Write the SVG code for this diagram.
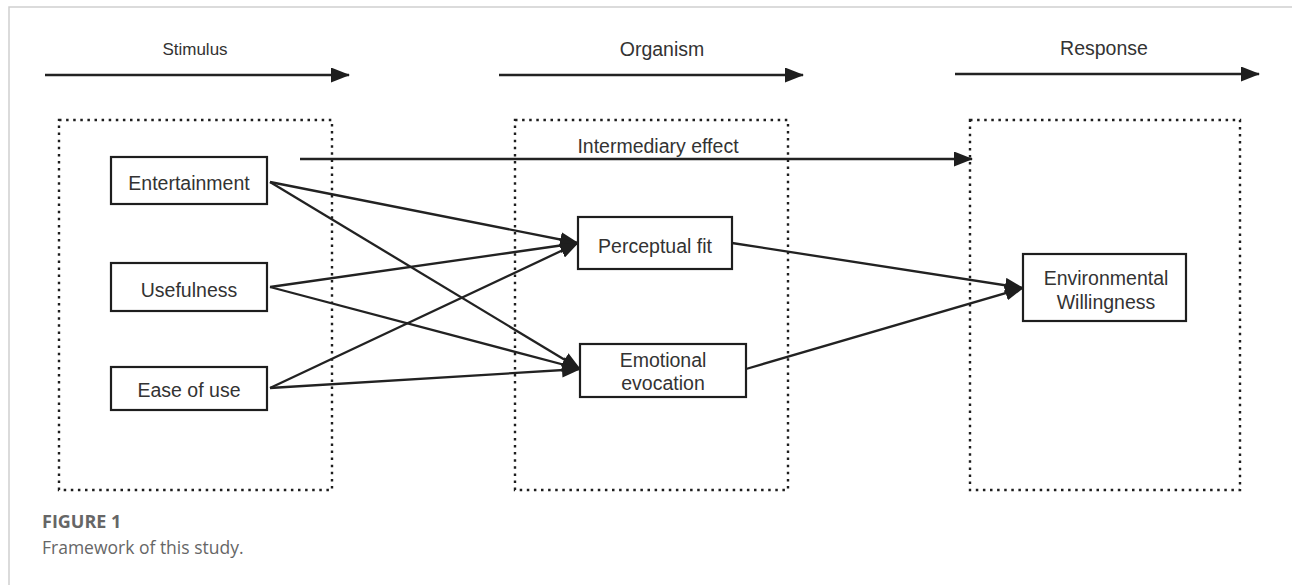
<svg xmlns="http://www.w3.org/2000/svg" width="1292" height="585" viewBox="0 0 1292 585">
<defs>
<style>
.frame{stroke:#cfcfcf;stroke-width:1.5;fill:none}
.dot{fill:none;stroke:#1e1e1e;stroke-width:2.4;stroke-dasharray:2.5 4.6}
.box{fill:#fff;stroke:#1e1e1e;stroke-width:2.2}
.arr{stroke:#222;stroke-width:2.3;fill:none;marker-end:url(#ah)}
.t{font-family:"Liberation Sans",Arial,sans-serif;font-size:19.5px;fill:#333;text-anchor:middle}
.cap1{font-family:"Open Sans","Noto Sans",sans-serif;font-size:18px;font-weight:bold;fill:#666}
.cap2{font-family:"Open Sans","Noto Sans",sans-serif;font-size:17.5px;fill:#666}
</style>
<marker id="ah" viewBox="0 0 19 15" refX="18" refY="7.5" markerWidth="19" markerHeight="15" markerUnits="userSpaceOnUse" orient="auto">
<path d="M0,0 L19,7.5 L0,15 z" fill="#1e1e1e"/>
</marker>
</defs>
<rect width="1292" height="585" fill="#fff"/>
<path class="frame" d="M9,585 L9,7 L1292,7"/>

<g id="stage-labels">
<text class="t" x="195" y="55" style="font-size:17px">Stimulus</text>
<text class="t" x="662" y="56">Organism</text>
<text class="t" x="1104" y="55">Response</text>
</g>

<g id="stage-boxes">
<rect class="dot" x="59" y="120" width="273" height="370"/>
<rect class="dot" x="515" y="120" width="273" height="370"/>
<rect class="dot" x="970" y="120" width="270" height="370"/>
</g>

<g id="connectors">
<line class="arr" x1="45" y1="75" x2="349" y2="75"/>
<line class="arr" x1="499" y1="75" x2="803" y2="75"/>
<line class="arr" x1="955" y1="74" x2="1259" y2="74"/>
<line class="arr" x1="300" y1="159" x2="972" y2="159"/>
<line class="arr" x1="270" y1="182" x2="578" y2="243"/>
<line class="arr" x1="270" y1="287" x2="578" y2="243"/>
<line class="arr" x1="270" y1="388" x2="578" y2="243"/>
<line class="arr" x1="270" y1="182" x2="580" y2="369"/>
<line class="arr" x1="270" y1="287" x2="580" y2="369"/>
<line class="arr" x1="270" y1="388" x2="580" y2="369"/>
<line class="arr" x1="732" y1="243" x2="1023" y2="288"/>
<line class="arr" x1="746" y1="369" x2="1023" y2="288"/>
<text class="t" x="658" y="153">Intermediary effect</text>
</g>

<g id="entertainment">
<rect class="box" x="111" y="157" width="156" height="47"/>
<text class="t" x="189" y="190">Entertainment</text>
</g>
<g id="usefulness">
<rect class="box" x="111" y="263" width="156" height="48"/>
<text class="t" x="189" y="297">Usefulness</text>
</g>
<g id="ease-of-use">
<rect class="box" x="111" y="367" width="156" height="43"/>
<text class="t" x="189" y="397">Ease of use</text>
</g>
<g id="perceptual-fit">
<rect class="box" x="578" y="217" width="154" height="52"/>
<text class="t" x="655" y="253">Perceptual fit</text>
</g>
<g id="emotional-evocation">
<rect class="box" x="580" y="344" width="166" height="53"/>
<text class="t" x="663" y="367">Emotional</text>
<text class="t" x="663" y="390">evocation</text>
</g>
<g id="environmental-willingness">
<rect class="box" x="1023" y="254" width="163" height="67"/>
<text class="t" x="1106" y="285">Environmental</text>
<text class="t" x="1106" y="309">Willingness</text>
</g>

<g id="caption">
<text class="cap1" x="42" y="528">FIGURE 1</text>
<text class="cap2" x="42" y="554">Framework of this study.</text>
</g>
</svg>
